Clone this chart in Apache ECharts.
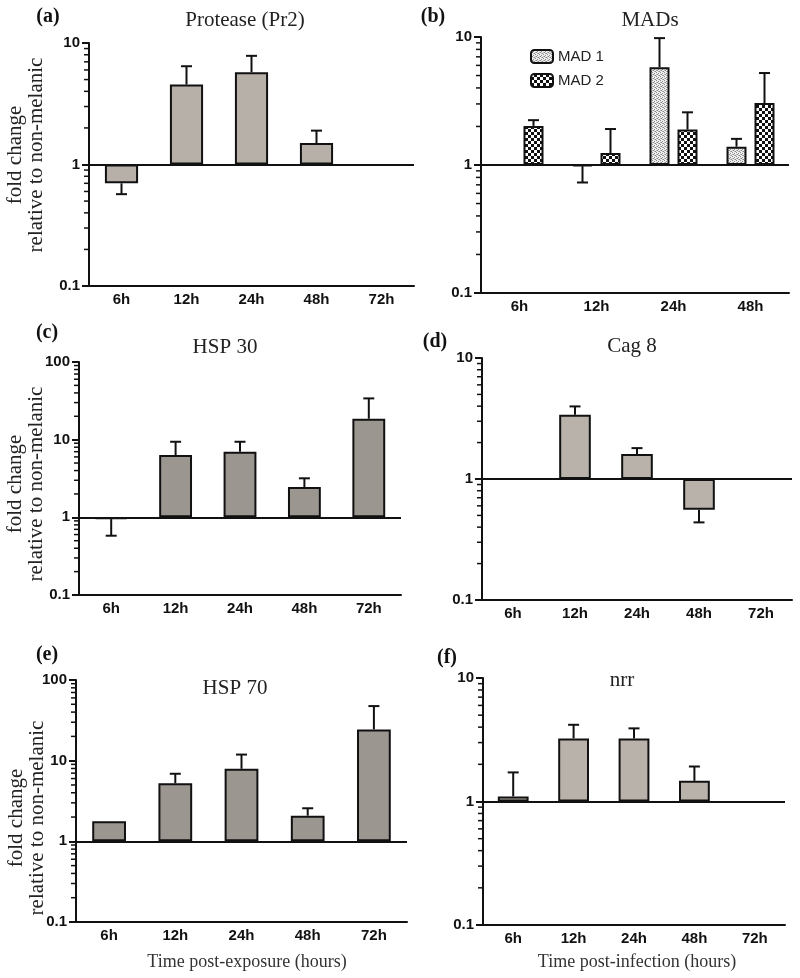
<!DOCTYPE html>
<html><head><meta charset="utf-8">
<script src="https://cdn.jsdelivr.net/npm/echarts@6/dist/echarts.min.js"></script>
<style>html,body{margin:0;padding:0;background:#fff}#c{width:800px;height:978px}</style>
</head><body><div id="c"></div>
<script>
// ---------------- data ----------------
const hours5 = ['6h', '12h', '24h', '48h', '72h'];
const hours4 = ['6h', '12h', '24h', '48h'];

const proteaseVals = [0.70, 4.55, 5.75, 1.50, null];
const proteaseErr  = [0.57, 6.44, 7.84, 1.90, null];

const mad1Vals = [null, 0.98, 5.8, 1.39];
const mad1Err  = [null, 0.73, 9.8, 1.60];
const mad2Vals = [2.02, 1.24, 1.89, 3.05];
const mad2Err  = [2.24, 1.91, 2.58, 5.23];

const hsp30Vals = [0.95, 6.34, 6.98, 2.45, 18.6];
const hsp30Err  = [0.58, 9.4, 9.4, 3.18, 34];

const cag8Vals = [null, 3.4, 1.61, 0.557, null];
const cag8Err  = [null, 3.98, 1.80, 0.438, null];

const hsp70Vals = [1.77, 5.25, 7.93, 2.08, 24.4];
const hsp70Err  = [null, 6.88, 11.9, 2.57, 47.5];

const nrrVals = [1.10, 3.24, 3.24, 1.47, null];
const nrrErr  = [1.72, 4.18, 3.91, 1.92, null];

const minorTickValues = [0.2,0.3,0.4,0.5,0.6,0.7,0.8,0.9,2,3,4,5,6,7,8,9,20,30,40,50,60,70,80,90];

const panelTitles = ['Protease (Pr2)', 'MADs', 'HSP 30', 'Cag 8', 'HSP 70', 'nrr'];
const panelLetters = ['(a)', '(b)', '(c)', '(d)', '(e)', '(f)'];
const yName = 'fold change\nrelative to non-melanic';
const xNameLeft = 'Time post-exposure (hours)';
const xNameRight = 'Time post-infection (hours)';
const legendNames = ['MAD 1', 'MAD 2'];

// ---------------- patterns ----------------
function dotPattern() {
  const c = document.createElement('canvas'); c.width = 4; c.height = 4;
  const g = c.getContext('2d');
  g.fillStyle = '#eeeeee'; g.fillRect(0, 0, 4, 4);
  g.fillStyle = '#8a8a8a';
  g.fillRect(0, 0, 1, 1); g.fillRect(2, 1, 1, 1); g.fillRect(1, 2, 1, 1); g.fillRect(3, 3, 1, 1);
  g.fillStyle = '#b5b5b5';
  g.fillRect(2, 3, 1, 1); g.fillRect(0, 2, 1, 1);
  return c;
}
function checkPattern() {
  const c = document.createElement('canvas'); c.width = 6; c.height = 6;
  const g = c.getContext('2d');
  g.fillStyle = '#111'; g.fillRect(0, 0, 6, 6);
  g.fillStyle = '#fff'; g.fillRect(0, 0, 3, 3); g.fillRect(3, 3, 3, 3);
  return c;
}

// ---------------- layout ----------------
const SANS = '"Liberation Sans", Arial, sans-serif';
const SERIF = '"Liberation Serif", "Times New Roman", serif';
const INK = '#111';

const panels = [
  { grid: {left: 89, top: 43, width: 325, height: 243}, cats: hours5, max: 10,
    bars: [{name: 'Protease', vals: proteaseVals, err: proteaseErr, color: '#b6b0a9'}] },
  { grid: {left: 481, top: 37, width: 308, height: 256}, cats: hours4, max: 10, grouped: true,
    bars: [{name: 'MAD 1', vals: mad1Vals, err: mad1Err, color: {image: dotPattern(), repeat: 'repeat'}, offset: -14},
           {name: 'MAD 2', vals: mad2Vals, err: mad2Err, color: {image: checkPattern(), repeat: 'repeat'}, offset: 14}] },
  { grid: {left: 79, top: 362, width: 322, height: 233}, cats: hours5, max: 100,
    bars: [{name: 'HSP 30', vals: hsp30Vals, err: hsp30Err, color: '#9c9691'}] },
  { grid: {left: 482, top: 358, width: 310, height: 242}, cats: hours5, max: 10,
    bars: [{name: 'Cag 8', vals: cag8Vals, err: cag8Err, color: '#b8b2ab'}] },
  { grid: {left: 76, top: 680, width: 331, height: 242}, cats: hours5, max: 100,
    bars: [{name: 'HSP 70', vals: hsp70Vals, err: hsp70Err, color: '#9c9691'}] },
  { grid: {left: 483, top: 678, width: 302, height: 247}, cats: hours5, max: 10,
    bars: [{name: 'nrr', vals: nrrVals, err: nrrErr, color: '#b8b2ab'}] }
];

const titlePos = [[245, 20], [650, 20], [225, 347], [632, 346], [235, 688], [622, 680]];
const letterPos = [[48, 17], [433, 17], [47, 333], [435, 342], [47, 655], [447, 658]];
const yNamePos = [[26, 155], [26, 484], [27, 818]];

const grids = [], xAxes = [], yAxes = [], series = [];

panels.forEach((p, i) => {
  grids.push(Object.assign({outerBoundsMode: 'none'}, p.grid));
  xAxes.push({
    type: 'category', gridIndex: i, data: p.cats,
    axisLine: {lineStyle: {color: INK, width: 2}},
    axisTick: {alignWithLabel: true, length: 5, lineStyle: {color: INK, width: 2}},
    axisLabel: {color: INK, fontFamily: SANS, fontWeight: 'bold', fontSize: 15, margin: 6},
    splitLine: {show: false}
  });
  yAxes.push({
    type: 'log', logBase: 10, gridIndex: i, min: 0.1, max: p.max,
    axisLine: {show: true, lineStyle: {color: INK, width: 2}},
    axisTick: {show: true, length: 7, lineStyle: {color: INK, width: 2}},
    axisLabel: {color: INK, fontFamily: SANS, fontWeight: 'bold', fontSize: 15, margin: 9},
    splitLine: {show: false}
  });
  // minor log ticks (2..9 of each decade)
  series.push({
    type: 'custom', name: 'minor ticks ' + i, xAxisIndex: i, yAxisIndex: i, silent: true, z: 5,
    clip: false,
    data: minorTickValues.filter(v => v < p.max).map(v => [0, v]),
    encode: {x: 0, y: 1},
    renderItem: function (params, api) {
      const pt = api.coord([api.value(0), api.value(1)]);
      const x = pt[0] - api.size([1, 0])[0] / 2;
      return {type: 'line', shape: {x1: x - 5, y1: pt[1], x2: x, y2: pt[1]}, style: {stroke: INK, lineWidth: 1.5}};
    }
  });
  p.bars.forEach((b, k) => {
    const s = {
      type: 'bar', name: b.name, xAxisIndex: i, yAxisIndex: i,
      data: b.vals,
      itemStyle: {color: b.color, borderColor: INK, borderWidth: 2},
      emphasis: {disabled: true}, silent: true, z: 2
    };
    if (p.grouped) { s.barWidth = 20; s.barGap = '40%'; } else { s.barWidth = '51%'; }
    if (k === 0) {
      s.markLine = {
        silent: true, symbol: 'none', label: {show: false}, animation: false,
        lineStyle: {color: INK, width: 2, type: 'solid'},
        data: [{yAxis: 1}]
      };
    }
    series.push(s);
    const off = b.offset || 0;
    series.push({
      type: 'custom', name: b.name + ' error', xAxisIndex: i, yAxisIndex: i, silent: true, z: 1,
      data: b.vals.map((v, j) => [j, v, b.err[j]]).filter(d => d[1] != null && d[2] != null),
      renderItem: function (params, api) {
        const j = api.value(0), v = api.value(1), e = api.value(2);
        const p0 = api.coord([j, v]), p1 = api.coord([j, e]);
        const x = p0[0] + off;
        return {
          type: 'group', children: [
            {type: 'line', shape: {x1: x, y1: p0[1], x2: x, y2: p1[1]}, style: {stroke: INK, lineWidth: 2}},
            {type: 'line', shape: {x1: x - 5.5, y1: p1[1], x2: x + 5.5, y2: p1[1]}, style: {stroke: INK, lineWidth: 2}}
          ]
        };
      }
    });
  });
});

const graphics = [];
panelTitles.forEach((t, i) => {
  graphics.push({type: 'text', x: titlePos[i][0], y: titlePos[i][1], silent: true,
    style: {text: t, font: '21px ' + SERIF, fill: '#222', align: 'center', verticalAlign: 'middle'}});
  graphics.push({type: 'text', x: letterPos[i][0], y: letterPos[i][1], silent: true,
    style: {text: panelLetters[i], font: 'bold 20px ' + SERIF, fill: '#111', align: 'center', verticalAlign: 'middle'}});
});
yNamePos.forEach(pos => {
  graphics.push({type: 'text', x: pos[0], y: pos[1], rotation: Math.PI / 2, silent: true,
    style: {text: yName, font: '21px ' + SERIF, fill: '#222', align: 'center', verticalAlign: 'middle', lineHeight: 21}});
});
graphics.push({type: 'text', x: 247, y: 962, silent: true,
  style: {text: xNameLeft, font: '18px ' + SERIF, fill: '#333', align: 'center', verticalAlign: 'middle'}});
graphics.push({type: 'text', x: 637, y: 962, silent: true,
  style: {text: xNameRight, font: '18px ' + SERIF, fill: '#333', align: 'center', verticalAlign: 'middle'}});

const chart = echarts.init(document.getElementById('c'), null, {renderer: 'canvas'});
chart.setOption({
  animation: false,
  backgroundColor: '#fff',
  grid: grids,
  xAxis: xAxes,
  yAxis: yAxes,
  legend: {
    data: legendNames, orient: 'vertical', left: 525, top: 44,
    itemWidth: 22, itemHeight: 13, itemGap: 9,
    textStyle: {fontFamily: SANS, fontSize: 15, color: '#222'},
    selectedMode: false
  },
  series: series,
  graphic: graphics
});
</script>
</body></html>
